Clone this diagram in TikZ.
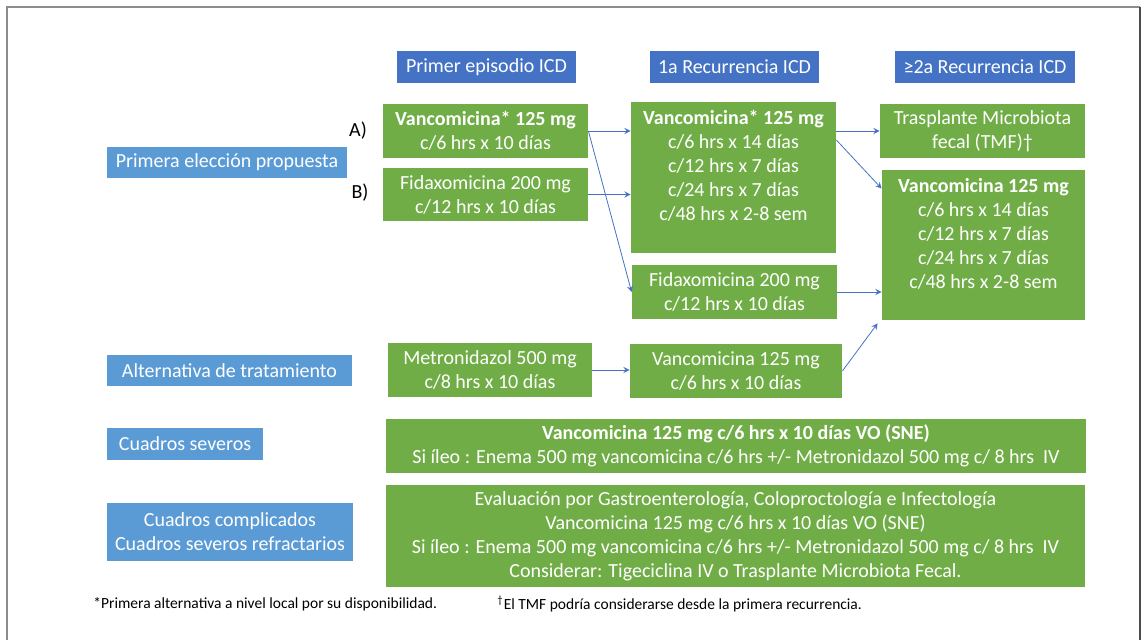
\documentclass[tikz,border=0pt]{standalone}
\usepackage{fontspec}
\setmainfont{Carlito}
\usepackage{tikz}
\definecolor{hdrblue}{HTML}{4472C4}
\definecolor{rowblue}{HTML}{5B9BD5}
\definecolor{rxgreen}{HTML}{70AD47}
\definecolor{framegray}{HTML}{8C8C8C}

\begin{document}
\begin{tikzpicture}[x=0.5pt,y=-0.5pt,>=stealth,
	hdr/.style={fill=hdrblue,text=white,inner sep=0pt,minimum height=16pt,font=\fontsize{10}{12}\selectfont},
	row/.style={fill=rowblue,text=white,inner sep=0pt,align=center,font=\fontsize{10}{12}\selectfont},
	rx/.style={fill=rxgreen,text=white,inner sep=0pt,align=center,font=\fontsize{10}{12}\selectfont},
	flow/.style={->,hdrblue,line width=0.4pt}]

	\useasboundingbox (0,0) rectangle (1141,640);
	\draw[framegray,line width=1pt] (7,640) -- (7,7) -- (1140,7);
	\draw[black!70,line width=1pt] (1140,7) -- (1140,640);

	% column headers
	\node[hdr,minimum width=89.5pt] (epi1) at (486.5,67) {Primer episodio ICD};
	\node[hdr,minimum width=84.5pt] (rec1) at (734.5,67) {1a Recurrencia ICD};
	\node[hdr,minimum width=90pt] (rec2) at (985,67) {≥2a Recurrencia ICD};

	% row labels
	\node[row,minimum width=120pt,minimum height=15.5pt] (rowPrim) at (227,162.5) {Primera elección propuesta};
	\node[row,minimum width=122.5pt,minimum height=15.5pt] (rowAlt) at (229.5,370.5) {Alternativa de tratamiento};
	\node[row,minimum width=78pt,minimum height=16pt] (rowSev) at (185,444) {Cuadros severos};
	\node[row,minimum width=123pt,minimum height=29pt] (rowComp) at (230,532) {Cuadros complicados\\Cuadros severos refractarios};

	\node[font=\fontsize{10}{12}\selectfont] (lblA) at (358,131) {A)};
	\node[font=\fontsize{10}{12}\selectfont] (lblB) at (360,193) {B)};

	% treatments
	\node[rx,minimum width=102.5pt,minimum height=27pt] (vanA) at (485.5,131) {\textbf{Vancomicina* 125 mg}\\c/6 hrs x 10 días};
	\node[rx,minimum width=102.5pt,minimum height=26.5pt] (fidB) at (485.5,194.5) {Fidaxomicina 200 mg\\c/12 hrs x 10 días};
	\node[rx,minimum width=102.5pt,minimum height=75.5pt] (vanRec) at (733.5,177.5) {\textbf{Vancomicina* 125 mg}\\c/6 hrs x 14 días\\c/12 hrs x 7 días\\c/24 hrs x 7 días\\c/48 hrs x 2-8 sem\\ \mbox{}};
	\node[rx,minimum width=102.5pt,minimum height=27pt] (fidRec) at (734.5,292) {Fidaxomicina 200 mg\\c/12 hrs x 10 días};
	\node[rx,minimum width=102.5pt,minimum height=27pt] (tmf) at (982.5,131) {Trasplante Microbiota\\fecal (TMF)†};
	\node[rx,minimum width=101.5pt,minimum height=75pt] (vanLast) at (983.5,245) {\textbf{Vancomicina 125 mg}\\c/6 hrs x 14 días\\c/12 hrs x 7 días\\c/24 hrs x 7 días\\c/48 hrs x 2-8 sem\\ \mbox{}};
	\node[rx,minimum width=102pt,minimum height=27pt] (metro) at (490,370) {Metronidazol 500 mg\\c/8 hrs x 10 días};
	\node[rx,minimum width=106pt,minimum height=27pt] (vanAlt) at (736,371) {Vancomicina 125 mg\\c/6 hrs x 10 días};
	\node[rx,minimum width=350pt,minimum height=27pt] (severo) at (736,446) {\textbf{Vancomicina 125 mg c/6 hrs x 10 días VO (SNE)}\\Si íleo : Enema 500 mg vancomicina c/6 hrs +/- Metronidazol 500 mg c/ 8 hrs \ IV};
	\node[rx,minimum width=349.5pt,minimum height=51pt] (complic) at (735.5,536) {Evaluación por Gastroenterología, Coloproctología e Infectología\\Vancomicina 125 mg c/6 hrs x 10 días VO (SNE)\\Si íleo : Enema 500 mg vancomicina c/6 hrs +/- Metronidazol 500 mg c/ 8 hrs \ IV\\Considerar: Tigeciclina IV o Trasplante Microbiota Fecal.};

	% arrows
	\draw[flow] (vanA.east) -- (vanA.east -| vanRec.west);
	\draw[flow] (vanA.east) -- (fidRec.west);
	\draw[flow] (fidB.east) -- (fidB.east -| vanRec.west);
	\draw[flow] (vanRec.east |- tmf.west) -- (tmf.west);
	\draw[flow] (vanRec.20) -- (vanLast.151);
	\draw[flow] (fidRec.east) -- (fidRec.east -| vanLast.west);
	\draw[flow] (metro.east) -- (metro.east -| vanAlt.west);
	\draw[flow] (vanAlt.east) -- ([xshift=-2pt,yshift=-1.5pt]vanLast.south west);

	% footnotes
	\node[anchor=west,inner sep=0pt,font=\fontsize{7.75}{9}\selectfont] (note1) at (93,604) {*Primera alternativa a nivel local por su disponibilidad.};
	\node[anchor=west,inner sep=0pt,font=\fontsize{7.75}{9}\selectfont] (note2) at (497,604) {\textsuperscript{†}El TMF podría considerarse desde la primera recurrencia.};

\end{tikzpicture}
\end{document}
